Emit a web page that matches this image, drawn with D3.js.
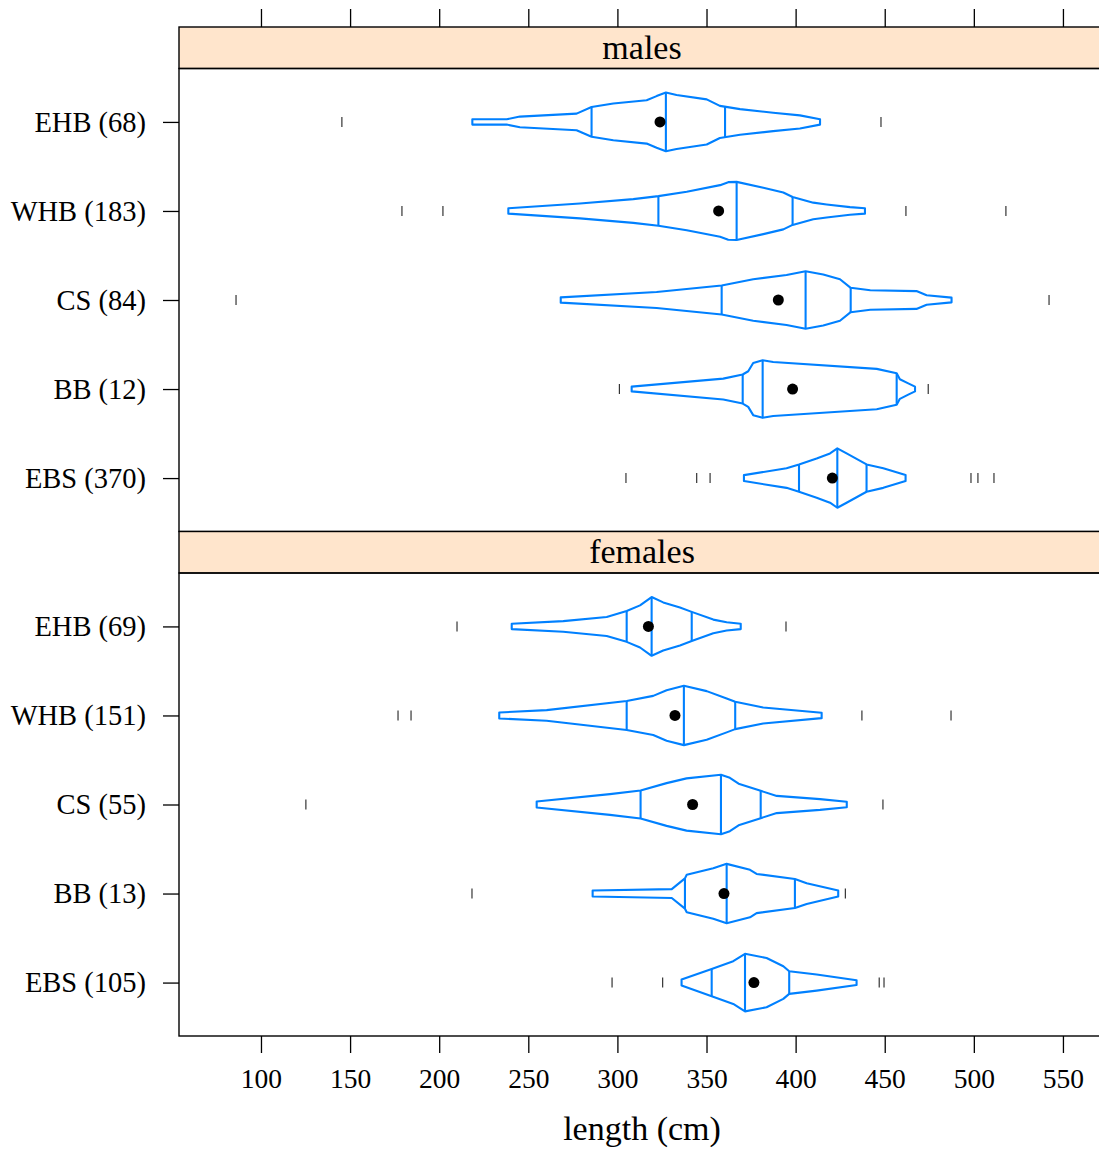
<!DOCTYPE html>
<html>
<head>
<meta charset="utf-8">
<script src="https://cdn.jsdelivr.net/npm/d3@7"></script>
<style>
  body { margin: 0; background: #fff; }
  svg text { font-family: "Liberation Serif", "Times New Roman", Times, serif; fill: #000; }
</style>
</head>
<body>
<svg id="chart" width="1099" height="1150"></svg>
<script>
// ---- data ---------------------------------------------------------------
const regions = ["EHB", "WHB", "CS", "BB", "EBS"];
const panelNames = ["males", "females"];
const malesN = [68, 183, 84, 12, 370];
const femalesN = [69, 151, 55, 13, 105];
const xTickValues = [100, 150, 200, 250, 300, 350, 400, 450, 500, 550];

// [Q1, median, Q3] in cm
const malesQuartiles = [
  [285.5, 327.2, 360.4],
  [323.0, 366.9, 398.3],
  [358.5, 405.6, 430.9],
  [370.3, 381.5, 456.7],
  [401.9, 423.4, 439.8]
];
const femalesQuartiles = [
  [305.2, 319.2, 341.7],
  [305.2, 337.3, 366.1],
  [313.0, 358.1, 380.4],
  [337.9, 361.3, 399.6],
  [352.9, 371.6, 396.4]
];
const malesMean = [323.9, 356.8, 390.3, 398.3, 420.6];
const femalesMean = [317.4, 332.3, 342.2, 359.8, 376.6];

const malesOutliers = [
  [145.4, 447.9],
  [179.1, 202.1, 461.9, 518.0],
  [86.0, 542.2],
  [301.1, 474.4],
  [304.8, 344.5, 352.0, 498.4, 502.3, 511.3]
];
const femalesOutliers = [
  [210.0, 394.6],
  [176.9, 184.2, 437.2, 487.2],
  [125.2, 449.0],
  [218.4, 427.9],
  [297.0, 325.4, 446.9, 449.6]
];

// density profiles: [length, density relative to the group maximum]
const densEHBm = [[218.6,0.09],[237.9,0.09],[245.3,0.18],[277.1,0.28],[285.5,0.50],[297.7,0.62],[316.4,0.73],[322.0,0.87],[327.2,0.99],[333.2,0.91],[350.1,0.76],[357.5,0.54],[368.8,0.43],[387.4,0.31],[402.4,0.22],[413.7,0.09]];
const densWHBm = [[238.8,0.09],[279.0,0.25],[308.9,0.40],[323.0,0.50],[338.9,0.65],[357.6,0.87],[362.2,0.97],[366.9,0.98],[381.9,0.78],[393.1,0.62],[398.3,0.47],[409.9,0.28],[417.4,0.22],[430.5,0.13],[438.9,0.09]];
const densCSm  = [[268.2,0.09],[322.0,0.27],[358.5,0.49],[376.2,0.70],[394.9,0.84],[405.6,0.97],[415.5,0.86],[424.9,0.70],[430.9,0.41],[441.9,0.33],[467.8,0.30],[473.5,0.16],[487.5,0.08]];
const densBBm  = [[308.0,0.08],[359.4,0.35],[370.3,0.49],[373.4,0.60],[376.2,0.88],[381.5,0.97],[387.4,0.91],[445.5,0.68],[456.7,0.53],[458.5,0.33],[463.2,0.19],[467.0,0.08]];
const densEBSm = [[371.0,0.10],[394.9,0.33],[401.9,0.46],[411.8,0.66],[419.3,0.83],[423.4,1.00],[428.6,0.83],[439.8,0.46],[449.2,0.33],[461.7,0.10]];

const densEHBf = [[240.7,0.09],[269.6,0.18],[294.0,0.32],[305.2,0.52],[312.7,0.71],[319.2,0.99],[325.7,0.81],[335.1,0.64],[341.7,0.49],[353.8,0.23],[361.3,0.14],[369.2,0.09]];
const densWHBf = [[233.7,0.10],[260.3,0.18],[305.2,0.49],[320.1,0.66],[327.6,0.85],[337.3,1.00],[350.1,0.82],[361.3,0.57],[366.1,0.46],[381.8,0.27],[414.6,0.09]];
const densCSf  = [[254.7,0.10],[295.8,0.35],[313.0,0.47],[327.6,0.72],[338.8,0.88],[358.1,1.00],[363.1,0.90],[368.0,0.70],[380.4,0.46],[389.4,0.29],[413.7,0.18],[428.7,0.09]];
const densBBf  = [[286.1,0.10],[330.5,0.15],[337.9,0.51],[338.9,0.63],[353.8,0.85],[361.3,1.00],[374.4,0.80],[378.1,0.66],[399.6,0.49],[406.2,0.35],[423.9,0.10]];
const densEBSf = [[336.0,0.10],[352.9,0.46],[365.0,0.72],[371.6,0.97],[383.7,0.83],[393.1,0.55],[396.4,0.38],[411.8,0.27],[434.2,0.08]];

const malesDens = [densEHBm, densWHBm, densCSm, densBBm, densEBSm];
const femalesDens = [densEHBf, densWHBf, densCSf, densBBf, densEBSf];

// ---- layout -------------------------------------------------------------
const left = 179, right = 1105;
const stripH = 41.5;
const panelH = 463;
const top0 = 27;
const blue = "#0080ff";

const svg = d3.select("#chart");

const x = d3.scaleLinear().domain([54.0, 573.6]).range([left, right]);

const panels = [
  { name: panelNames[0], n: malesN, q: malesQuartiles, mean: malesMean, out: malesOutliers, dens: malesDens },
  { name: panelNames[1], n: femalesN, q: femalesQuartiles, mean: femalesMean, out: femalesOutliers, dens: femalesDens }
];

// linear interpolation of a density profile at length v
function densAt(profile, v) {
  if (v <= profile[0][0]) return profile[0][1];
  for (let i = 1; i < profile.length; i++) {
    if (v <= profile[i][0]) {
      const [a, da] = profile[i - 1], [b, db] = profile[i];
      return da + (db - da) * (v - a) / (b - a);
    }
  }
  return profile[profile.length - 1][1];
}

let yCursor = top0;
panels.forEach((p, pi) => {
  const stripTop = yCursor;
  const panelTop = stripTop + stripH;
  const panelBottom = panelTop + panelH;
  yCursor = panelBottom;

  // strip
  svg.append("rect")
    .attr("x", left).attr("y", stripTop)
    .attr("width", right - left).attr("height", stripH)
    .attr("fill", "#ffe5cc").attr("stroke", "#000").attr("stroke-width", 1.4);
  svg.append("text")
    .attr("x", (left + right) / 2).attr("y", stripTop + stripH / 2)
    .attr("dy", "0.33em")
    .attr("text-anchor", "middle")
    .style("font-size", "34px")
    .text(p.name);

  // panel frame
  svg.append("rect")
    .attr("x", left).attr("y", panelTop)
    .attr("width", right - left).attr("height", panelH)
    .attr("fill", "none").attr("stroke", "#000").attr("stroke-width", 1.4);

  const y = d3.scalePoint().domain(regions).range([panelTop, panelBottom]).padding(0.6);
  const halfMax = y.step() / 3;

  // y axis
  const yAxis = d3.axisLeft(y).tickSize(16).tickPadding(17)
    .tickFormat((d, i) => `${d} (${p.n[i]})`);
  const gy = svg.append("g").attr("transform", `translate(${left},0)`).call(yAxis);
  gy.select(".domain").remove();
  gy.selectAll(".tick line").attr("stroke", "#000").attr("stroke-width", 1.3);
  gy.selectAll(".tick text").style("font-size", "28.5px").attr("fill", "#000");

  const g = svg.append("g");

  regions.forEach((r, i) => {
    const yc = y(r);
    const prof = p.dens[i];

    // outliers
    g.selectAll(null).data(p.out[i]).enter().append("line")
      .attr("x1", d => x(d)).attr("x2", d => x(d))
      .attr("y1", yc - 5).attr("y2", yc + 5)
      .attr("stroke", "#222").attr("stroke-width", 1.1);

    // violin outline
    const area = d3.area()
      .x(d => x(d[0]))
      .y0(d => yc - d[1] * halfMax)
      .y1(d => yc + d[1] * halfMax)
      .curve(d3.curveLinear);
    g.append("path").datum(prof)
      .attr("d", area)
      .attr("fill", "#fff")
      .attr("stroke", blue).attr("stroke-width", 2.1)
      .attr("stroke-linejoin", "round");

    // quartile and median lines
    g.selectAll(null).data(p.q[i]).enter().append("line")
      .attr("x1", d => x(d)).attr("x2", d => x(d))
      .attr("y1", d => yc - densAt(prof, d) * halfMax)
      .attr("y2", d => yc + densAt(prof, d) * halfMax)
      .attr("stroke", blue).attr("stroke-width", 2.1);

    // mean
    g.append("circle")
      .attr("cx", x(p.mean[i])).attr("cy", yc).attr("r", 5.5)
      .attr("fill", "#000");
  });

  // x axes: ticks on top of the first strip, labelled axis under the last panel
  if (pi === 0) {
    const gt = svg.append("g").attr("transform", `translate(0,${stripTop})`)
      .call(d3.axisTop(x).tickValues(xTickValues).tickSize(18).tickFormat(""));
    gt.select(".domain").remove();
    gt.selectAll(".tick line").attr("stroke", "#000").attr("stroke-width", 1.3);
  }
  if (pi === panels.length - 1) {
    const gb = svg.append("g").attr("transform", `translate(0,${panelBottom})`)
      .call(d3.axisBottom(x).tickValues(xTickValues).tickSize(17).tickPadding(15));
    gb.select(".domain").remove();
    gb.selectAll(".tick line").attr("stroke", "#000").attr("stroke-width", 1.3);
    gb.selectAll(".tick text").style("font-size", "27.5px").attr("fill", "#000");
  }
});

svg.append("text")
  .attr("x", (left + right) / 2).attr("y", 1140)
  .attr("text-anchor", "middle")
  .style("font-size", "34px")
  .text("length (cm)");
</script>
</body>
</html>
